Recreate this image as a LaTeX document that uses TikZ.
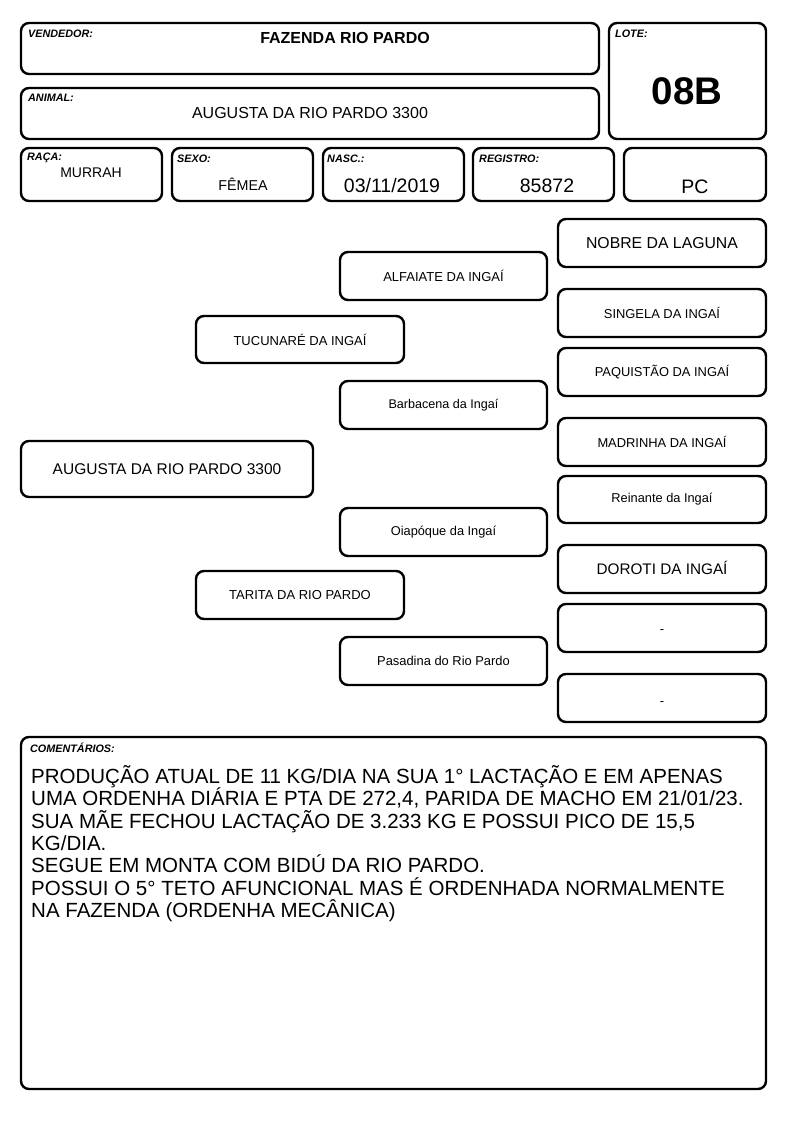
\documentclass[tikz,border=0pt]{standalone}
\usepackage{fontspec}
\setmainfont{Liberation Sans}
\newcommand{\fsz}[1]{\fontsize{#1}{#1}\selectfont}
\tikzset{
  card/.style={draw=black, line width=2.4pt, rounded corners=8pt, fill=white, inner sep=0pt, align=center},
  lbl/.style={anchor=north west, inner sep=0pt, font=\fsz{10.8}\bfseries\itshape},
  ped/.style={card, font=\fsz{13}},
  pedbig/.style={card, font=\fsz{15.7}},
}
\newcommand{\cardat}[6]{% name, x1, y1, x2, y2, style
  \node[#6, minimum width={(#4-#2)*1pt}, minimum height={(#5-#3)*1pt}] (#1) at ({(#2+#4)/2},{(#3+#5)/2}) {};}
\begin{document}
\begin{tikzpicture}[x=1pt,y=-1pt]
\useasboundingbox (0,0) rectangle (794,1123);
% header
\cardat{vend}{21}{23}{599}{74}{card}
\cardat{anim}{21}{88}{599}{139}{card}
\cardat{lote}{609}{23}{766}{139}{card}
\node[lbl] (vendl) at (28,30) {VENDEDOR:};
\node[font=\fsz{16}\bfseries, inner sep=0pt] (vendt) at (345,38) {FAZENDA RIO PARDO};
\node[lbl] (animl) at (28,94) {ANIMAL:};
\node[font=\fsz{16}, inner sep=0pt] (animt) at (310,113) {AUGUSTA DA RIO PARDO 3300};
\node[lbl] (lotel) at (615,30) {LOTE:};
\node[font=\fsz{38.5}\bfseries, inner sep=0pt] (lotet) at (687,91) {08B};
% info row
\cardat{raca}{21}{148}{162}{201}{card}
\cardat{sexo}{172}{148}{313}{201}{card}
\cardat{nasc}{323}{148}{464}{201}{card}
\cardat{reg}{473}{148}{614}{201}{card}
\cardat{pc}{624}{148}{766}{201}{card}
\node[lbl] (racal) at (27,153) {RAÇA:};
\node[lbl] (sexol) at (177,155) {SEXO:};
\node[lbl] (nascl) at (327,155) {NASC.:};
\node[lbl] (regl) at (479,155) {REGISTRO:};
\node[font=\fsz{14}, inner sep=0pt] (racat) at (91,172.5) {MURRAH};
\node[font=\fsz{14.3}, inner sep=0pt] (sexot) at (243,184) {FÊMEA};
\node[font=\fsz{19.5}, inner sep=0pt] (nasct) at (392,186) {03/11/2019};
\node[font=\fsz{19.5}, inner sep=0pt] (regt) at (547,186) {85872};
\node[font=\fsz{19.5}, inner sep=0pt] (pct) at (695,187) {PC};
% pedigree
\cardat{aug}{21}{441}{313}{497}{pedbig}
\node[font=\fsz{15.5}, inner sep=0pt] at (aug) {AUGUSTA DA RIO PARDO 3300};
\cardat{tuc}{196}{316}{404}{363}{ped}
\node[font=\fsz{13}, inner sep=0pt] at (tuc) {TUCUNARÉ DA INGAÍ};
\cardat{tar}{196}{571}{404}{619}{ped}
\node[font=\fsz{13}, inner sep=0pt] at (tar) {TARITA DA RIO PARDO};
\cardat{alf}{340}{252}{547}{300}{ped}
\node[font=\fsz{13}, inner sep=0pt] at (alf) {ALFAIATE DA INGAÍ};
\cardat{bar}{340}{381}{547}{429}{ped}
\node[font=\fsz{12.6}, inner sep=0pt] at (bar) {Barbacena da Ingaí};
\cardat{oia}{340}{508}{547}{556}{ped}
\node[font=\fsz{12.8}, inner sep=0pt] at (oia) {Oiapóque da Ingaí};
\cardat{pas}{340}{637}{547}{685}{ped}
\node[font=\fsz{12.9}, inner sep=0pt] at (pas) {Pasadina do Rio Pardo};
\cardat{nob}{558}{219}{766}{267}{ped}
\node[font=\fsz{15.8}, inner sep=0pt] at (nob) {NOBRE DA LAGUNA};
\cardat{sin}{558}{289}{766}{337}{ped}
\node[font=\fsz{12.9}, inner sep=0pt] at (sin) {SINGELA DA INGAÍ};
\cardat{paq}{558}{348}{766}{396}{ped}
\node[font=\fsz{12.9}, inner sep=0pt] at (paq) {PAQUISTÃO DA INGAÍ};
\cardat{mad}{558}{418}{766}{466}{ped}
\node[font=\fsz{12.9}, inner sep=0pt] at (mad) {MADRINHA DA INGAÍ};
\cardat{rei}{558}{476}{766}{523}{ped}
\node[font=\fsz{12.8}, inner sep=0pt] at (rei) {Reinante da Ingaí};
\cardat{dor}{558}{545}{766}{593}{ped}
\node[font=\fsz{15.3}, inner sep=0pt] at ([yshift=1pt]dor) {DOROTI DA INGAÍ};
\cardat{d1}{558}{604}{766}{652}{ped}
\node[font=\fsz{13}, inner sep=0pt] at ([yshift=-4pt]d1) {-};
\cardat{d2}{558}{674}{766}{722}{ped}
\node[font=\fsz{13}, inner sep=0pt] at ([yshift=-6pt]d2) {-};
% comments
\cardat{com}{21}{737}{766}{1089}{card}
\node[lbl] (coml) at (30,743) {COMENTÁRIOS:};
\node[anchor=north west, inner sep=0pt, align=left, font=\fontsize{20.5}{22.4}\selectfont] (comt) at (31,765)
{PRODUÇÃO ATUAL DE 11 KG/DIA NA SUA 1° LACTAÇÃO E EM APENAS\\
UMA ORDENHA DIÁRIA E PTA DE 272,4, PARIDA DE MACHO EM 21/01/23.\\
SUA MÃE FECHOU LACTAÇÃO DE 3.233 KG E POSSUI PICO DE 15,5\\
KG/DIA.\\
SEGUE EM MONTA COM BIDÚ DA RIO PARDO.\\
POSSUI O 5° TETO AFUNCIONAL MAS É ORDENHADA NORMALMENTE\\
NA FAZENDA (ORDENHA MECÂNICA)};
\end{tikzpicture}
\end{document}
